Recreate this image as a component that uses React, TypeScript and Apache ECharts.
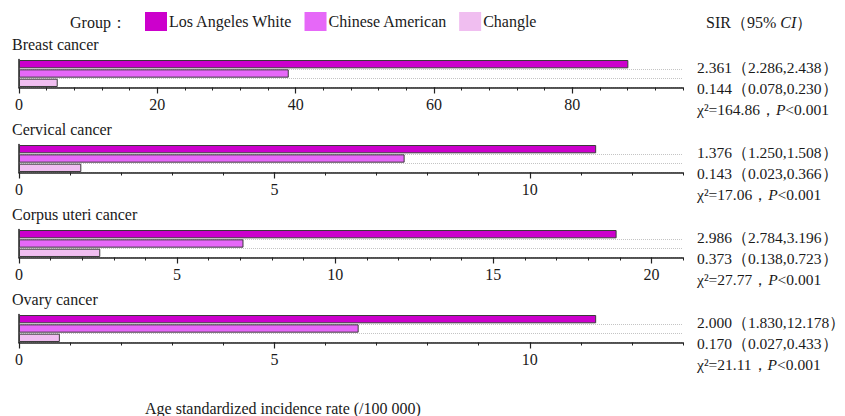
import React, { useEffect, useRef } from 'react';
import * as echarts from 'echarts';

// ---------- data ----------
const groups = ['Los Angeles White', 'Chinese American', 'Changle'];
const cancers = ['Breast cancer', 'Cervical cancer', 'Corpus uteri cancer', 'Ovary cancer'];
const losAngelesWhite = [88.1, 11.3, 18.9, 11.3];
const chineseAmerican = [39.0, 7.55, 7.1, 6.65];
const changle = [5.6, 1.22, 2.57, 0.8];
const axisMax = [96, 13, 21, 13];
const majorStep = [20, 5, 5, 5];
const minorStep = [4, 1, 1, 1];
const sirWhite = ['2.361（2.286,2.438）', '1.376（1.250,1.508）', '2.986（2.784,3.196）', '2.000（1.830,12.178）'];
const sirChinese = ['0.144（0.078,0.230）', '0.143（0.023,0.366）', '0.373（0.138,0.723）', '0.170（0.027,0.433）'];
const chiSquare = ['164.86', '17.06', '27.77', '21.11'];
const pValue = ['<0.001', '<0.001', '<0.001', '<0.001'];
const xAxisTitle = 'Age standardized incidence rate (/100 000)';

// ---------- style ----------
const groupColors = ['#CC00CC', '#E668F8', '#F0BEF0'];
const FONT = 'Liberation Serif';
const TXT = '#1a1a1a';
const GRID_LEFT = 19;
const GRID_RIGHT = 162;
const FIRST_TOP = 59.5;
const PANEL_STEP = 85;
const GRID_H = 28;
const RIGHT_FS = 15.5;

const seriesValues = [losAngelesWhite, chineseAmerican, changle];

function ticksOf(max: number, step: number): number[] {
  const out: number[] = [];
  for (let v = 0; v <= max + 1e-9; v += step) out.push(Math.round(v * 1000) / 1000);
  return out;
}

export default function App() {
  const ref = useRef<HTMLDivElement>(null);

  useEffect(() => {
    document.body.style.margin = '0';
    const chart = echarts.init(ref.current!, null, { renderer: 'svg' });

    const grids: any[] = [];
    const xAxes: any[] = [];
    const yAxes: any[] = [];
    const series: any[] = [];
    const titles: any[] = [];
    const graphics: any[] = [];

    cancers.forEach((name, i) => {
      const top = FIRST_TOP + PANEL_STEP * i;
      const bottom = top + GRID_H;
      grids.push({ left: GRID_LEFT, right: GRID_RIGHT, top, height: GRID_H, containLabel: false });
      const majors = ticksOf(axisMax[i], majorStep[i]);
      // minor-tick axis carrying the line and the labels
      xAxes.push({
        type: 'value',
        gridIndex: i,
        position: 'bottom',
        min: 0,
        max: axisMax[i],
        interval: minorStep[i],
        axisLine: { show: true, lineStyle: { color: '#222', width: 1.5 } },
        axisTick: { show: true, length: 3, lineStyle: { color: '#222', width: 1 } },
        axisLabel: {
          show: true,
          customValues: majors,
          margin: 9,
          fontSize: 16,
          fontFamily: FONT,
          color: TXT,
        },
        splitLine: { show: false },
      });
      // major-tick axis (longer ticks only)
      xAxes.push({
        type: 'value',
        gridIndex: i,
        position: 'bottom',
        min: 0,
        max: axisMax[i],
        axisLine: { show: false },
        axisTick: { show: true, customValues: majors, length: 6, lineStyle: { color: '#222', width: 1.2 } },
        axisLabel: { show: false },
        splitLine: { show: false },
      });
      yAxes.push({
        type: 'category',
        gridIndex: i,
        inverse: true,
        data: groups,
        axisLine: { show: true, lineStyle: { color: '#222', width: 1.5 } },
        axisTick: { show: false },
        axisLabel: { show: false },
        splitLine: {
          show: true,
          interval: (idx: number) => idx > 0,
          lineStyle: { type: 'dotted', color: '#c4c4c4', width: 1 },
        },
      });
      groups.forEach((g, gi) => {
        series.push({
          type: 'bar',
          name: g,
          xAxisIndex: 2 * i,
          yAxisIndex: i,
          stack: 'panel' + i,
          barCategoryGap: '11%',
          data: groups.map((_, k) => (k === gi ? seriesValues[gi][i] : '-')),
          itemStyle: { color: groupColors[gi], borderColor: '#3a3a3a', borderWidth: 1 },
          emphasis: { disabled: true },
        });
      });
      titles.push({
        text: name,
        left: 12,
        top: top - 23,
        padding: 0,
        textStyle: { fontSize: 16, fontWeight: 'normal', color: TXT, fontFamily: FONT },
      });
      const rich = { i: { fontStyle: 'italic', fontSize: RIGHT_FS, fontFamily: FONT, fill: TXT } };
      graphics.push({
        type: 'text', x: 697, y: bottom - 20,
        style: { text: sirWhite[i], fontSize: RIGHT_FS, fontFamily: FONT, fill: TXT, verticalAlign: 'middle' },
      });
      graphics.push({
        type: 'text', x: 697, y: bottom + 1,
        style: { text: sirChinese[i], fontSize: RIGHT_FS, fontFamily: FONT, fill: TXT, verticalAlign: 'middle' },
      });
      graphics.push({
        type: 'text', x: 697, y: bottom + 22,
        style: {
          text: 'χ²=' + chiSquare[i] + '，{i|P}' + pValue[i],
          rich, fontSize: RIGHT_FS, fontFamily: FONT, fill: TXT, verticalAlign: 'middle',
        },
      });
    });

    graphics.push({
      type: 'text', x: 70, y: 22,
      style: { text: 'Group：', fontSize: 16, fontFamily: FONT, fill: TXT, verticalAlign: 'middle' },
    });
    graphics.push({
      type: 'text', x: 706, y: 22,
      style: {
        text: 'SIR（95% {i|CI}）',
        rich: { i: { fontStyle: 'italic', fontSize: 16, fontFamily: FONT, fill: TXT } },
        fontSize: 16, fontFamily: FONT, fill: TXT, verticalAlign: 'middle',
      },
    });
    graphics.push({
      type: 'text', x: 145, y: 408,
      style: { text: xAxisTitle, fontSize: 16, fontFamily: FONT, fill: TXT, verticalAlign: 'middle' },
    });

    chart.setOption({
      animation: false,
      backgroundColor: '#ffffff',
      textStyle: { fontFamily: FONT },
      title: titles,
      legend: {
        data: groups,
        left: 145,
        top: 12,
        padding: 0,
        itemWidth: 22,
        itemHeight: 19,
        itemGap: 12,
        icon: 'rect',
        itemStyle: { borderWidth: 0 },
        textStyle: { fontSize: 16, fontFamily: FONT, color: TXT, padding: [0, 0, 0, -3] },
        selectedMode: false,
      },
      grid: grids,
      xAxis: xAxes,
      yAxis: yAxes,
      series,
      graphic: graphics,
    });

    return () => chart.dispose();
  }, []);

  return <div ref={ref} style={{ width: 845, height: 416 }} />;
}
